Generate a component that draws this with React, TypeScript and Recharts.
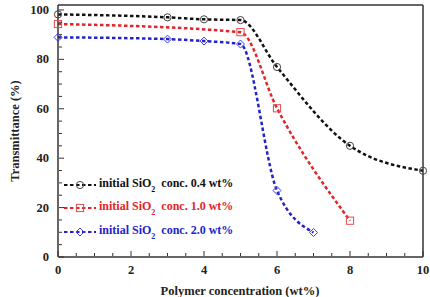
import React from 'react'
import { LineChart, Line, XAxis, YAxis } from 'recharts'

// polymer concentration (wt%) vs transmittance (%) for each initial SiO2 loading
const xLow = [0, 3, 4, 5, 6, 8, 10]
const tLow = [98.2, 97.0, 96.2, 95.9, 76.9, 45.0, 34.9]

const xMid = [0, 5, 6, 8]
const tMid = [94.3, 91.0, 60.2, 14.7]

const xHigh = [0, 3, 4, 5, 6, 7]
const tHigh = [88.9, 88.2, 87.4, 86.2, 26.9, 9.9]

const seriesNames = ['0.4', '1.0', '2.0']

const xMajor = [0, 2, 4, 6, 8, 10]
const yMajor = [0, 20, 40, 60, 80, 100]
const xTicks = Array.from({ length: 21 }, (_, i) => i * 0.5)
const yTicks = Array.from({ length: 21 }, (_, i) => i * 5)

const zip = (xs: number[], ys: number[]) => xs.map((x, i) => ({ x, t: ys[i] }))

const FONT = 'Liberation Serif, Times New Roman, Times, serif'
const AXIS = '#333'
const COLORS = ['#111111', '#e3232a', '#2323c8']
const MARKS = ['#444444', '#e84a4a', '#3c3cf0']

const tickText = { fontFamily: FONT, fontSize: 12.5, fontWeight: 700, fill: '#222' }

// axes are 1px thick, so tick coords arrive 1px outside the plot edge
const BottomTick = ({ x, y, payload }: any) => {
  const major = xMajor.includes(payload.value)
  const y0 = y - 1
  return (
    <g>
      <line x1={x} x2={x} y1={y0} y2={y0 - (major ? 5 : 3)} stroke={AXIS} strokeWidth={1} />
      {major && (
        <text x={x} y={y0 + 18} textAnchor="middle" {...tickText}>{payload.value}</text>
      )}
    </g>
  )
}

const TopTick = ({ x, y, payload }: any) => {
  const major = xMajor.includes(payload.value)
  const y0 = y + 1
  return <line x1={x} x2={x} y1={y0} y2={y0 + (major ? 5 : 3)} stroke={AXIS} strokeWidth={1} />
}

const LeftTick = ({ x, y, payload }: any) => {
  const major = yMajor.includes(payload.value)
  const x0 = x + 1
  return (
    <g>
      <line x1={x0} x2={x0 + (major ? 5 : 3)} y1={y} y2={y} stroke={AXIS} strokeWidth={1} />
      {major && (
        <text x={x0 - 10} y={y + 4} textAnchor="end" {...tickText}>{payload.value}</text>
      )}
    </g>
  )
}

const RightTick = ({ x, y, payload }: any) => {
  const major = yMajor.includes(payload.value)
  const x0 = x - 1
  return <line x1={x0} x2={x0 - (major ? 5 : 3)} y1={y} y2={y} stroke={AXIS} strokeWidth={1} />
}

const Marker = ({ kind, cx, cy, color }: { kind: number; cx: number; cy: number; color: string }) => {
  if (kind === 0) return <circle cx={cx} cy={cy} r={3.6} fill="none" stroke={color} strokeWidth={1} />
  if (kind === 1)
    return <rect x={cx - 3.6} y={cy - 3.6} width={7.2} height={7.2} fill="none" stroke={color} strokeWidth={1} />
  return (
    <polygon
      points={`${cx},${cy - 4} ${cx + 4},${cy} ${cx},${cy + 4} ${cx - 4},${cy}`}
      fill="none"
      stroke={color}
      strokeWidth={1}
    />
  )
}

const dotFor = (kind: number) => (props: any) => (
  <Marker key={`${kind}-${props.index}`} kind={kind} cx={props.cx} cy={props.cy} color={MARKS[kind]} />
)

const LegendBox = () => (
  <div style={{ position: 'absolute', left: 63, top: 173, fontFamily: FONT, fontSize: 12, fontWeight: 700 }}>
    {seriesNames.map((n, i) => (
      <div key={n} style={{ display: 'flex', alignItems: 'center', height: 23.5, color: COLORS[i] }}>
        <svg width={34} height={12} style={{ marginRight: 2 }}>
          <line x1={1} x2={33} y1={6} y2={6} stroke={COLORS[i]} strokeWidth={2} strokeDasharray="3.5 2.5" />
          <Marker kind={i} cx={17} cy={6} color={MARKS[i]} />
        </svg>
        <span style={{ whiteSpace: 'nowrap' }}>
          initial SiO<sub style={{ fontSize: 8, verticalAlign: -5, marginRight: 3 }}>2</sub> conc. {n} wt%
        </span>
      </div>
    ))}
  </div>
)

const lines = [
  { data: zip(xLow, tLow) },
  { data: zip(xMid, tMid) },
  { data: zip(xHigh, tHigh) },
]

export default function App() {
  return (
    <div style={{ position: 'absolute', left: 0, top: 0, width: 430, height: 297, background: '#fff', overflow: 'hidden' }}>
      <LineChart width={430} height={297} margin={{ top: 4, right: 6, bottom: 39, left: 57 }}>
        <XAxis
          xAxisId="b"
          type="number"
          dataKey="x"
          domain={[0, 10]}
          ticks={xTicks}
          interval={0}
          height={1}
          tickSize={0}
          tickMargin={0}
          tickLine={false}
          tick={<BottomTick />}
          axisLine={{ stroke: AXIS, strokeWidth: 1.5 }}
          allowDuplicatedCategory={false}
        />
        <XAxis
          xAxisId="t"
          orientation="top"
          type="number"
          dataKey="x"
          domain={[0, 10]}
          ticks={xTicks}
          interval={0}
          height={1}
          tickSize={0}
          tickMargin={0}
          tickLine={false}
          tick={<TopTick />}
          axisLine={{ stroke: AXIS, strokeWidth: 1.5 }}
          allowDuplicatedCategory={false}
        />
        <YAxis
          yAxisId="l"
          type="number"
          domain={[0, 102]}
          ticks={yTicks}
          interval={0}
          width={1}
          tickSize={0}
          tickMargin={0}
          tickLine={false}
          tick={<LeftTick />}
          axisLine={{ stroke: AXIS, strokeWidth: 1.5 }}
        />
        <YAxis
          yAxisId="r"
          orientation="right"
          type="number"
          domain={[0, 102]}
          ticks={yTicks}
          interval={0}
          width={1}
          tickSize={0}
          tickMargin={0}
          tickLine={false}
          tick={<RightTick />}
          axisLine={{ stroke: AXIS, strokeWidth: 1.5 }}
        />
        {lines.map((l, i) => (
          <Line
            key={i}
            xAxisId="b"
            yAxisId="l"
            data={l.data}
            dataKey="t"
            type="monotone"
            stroke={COLORS[i]}
            strokeWidth={2.5}
            strokeDasharray="3.5 2.5"
            dot={dotFor(i)}
            activeDot={false}
            isAnimationActive={false}
          />
        ))}
      </LineChart>
      <LegendBox />
      <div
        style={{
          position: 'absolute',
          left: 240,
          top: 284,
          transform: 'translateX(-50%)',
          fontFamily: FONT,
          fontSize: 12.5,
          fontWeight: 700,
          whiteSpace: 'nowrap',
          color: '#222',
        }}
      >
        Polymer concentration (wt%)
      </div>
      <div
        style={{
          position: 'absolute',
          left: 15,
          top: 131,
          transform: 'translate(-50%, -50%) rotate(-90deg)',
          fontFamily: FONT,
          fontSize: 12.5,
          fontWeight: 700,
          whiteSpace: 'nowrap',
          color: '#222',
        }}
      >
        Transmittance (%)
      </div>
    </div>
  )
}
